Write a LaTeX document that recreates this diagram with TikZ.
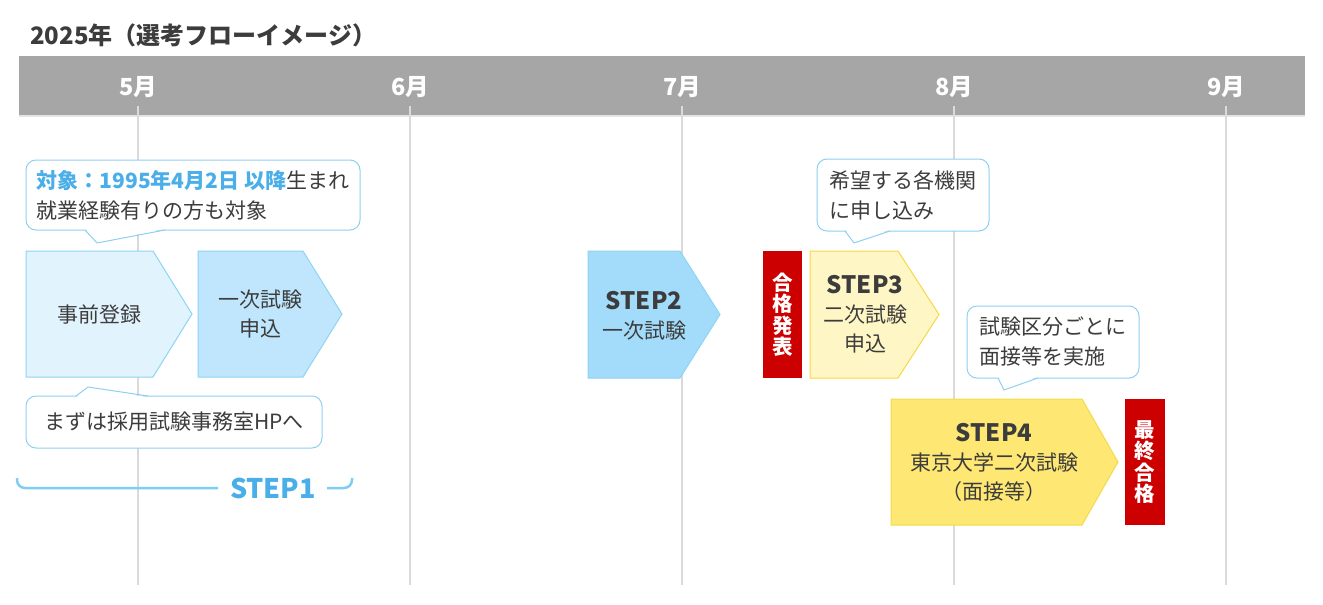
\documentclass[tikz,border=0pt]{standalone}
\usepackage{fontspec}
\setmainfont{Noto Sans CJK JP}
\usepackage{tikz}
\definecolor{bandgray}{HTML}{A6A6A6}
\definecolor{gridgray}{HTML}{DADADA}
\definecolor{txtdark}{HTML}{3C3C3C}
\definecolor{noteblue}{HTML}{4AAEE8}
\definecolor{bubbleline}{HTML}{8ED0F2}
\definecolor{blueline}{HTML}{8FD3F5}
\definecolor{bluelight}{HTML}{E1F3FD}
\definecolor{bluemid}{HTML}{BFE6FC}
\definecolor{bluedeep}{HTML}{A3DCFB}
\definecolor{yellowline}{HTML}{F5D945}
\definecolor{yellowlight}{HTML}{FFF6C6}
\definecolor{yellowdeep}{HTML}{FEE873}
\definecolor{passred}{HTML}{CC0000}
\definecolor{bracketblue}{HTML}{80CDF3}
\tikzstyle{title}=[anchor=west, inner sep=0, text=txtdark, font=\fontsize{24}{24}\selectfont\bfseries]
\tikzstyle{month}=[inner sep=0, text=white, font=\fontsize{23.5}{24}\selectfont\bfseries]
\tikzstyle{grid}=[gridgray, line width=2pt]
\tikzstyle{txt}=[inner sep=0, align=center, text=txtdark, font=\fontsize{21}{29}\selectfont]
\tikzstyle{bubble}=[draw=bubbleline, line width=1pt, fill=white, rounded corners=10pt, align=left, text=txtdark, font=\fontsize{21}{30}\selectfont]
\tikzstyle{tail}=[bubbleline, line width=1pt, line join=round]
\tikzstyle{arrowbox}=[draw=blueline, line width=1pt]
\tikzstyle{result}=[fill=passred, inner sep=0, align=center, text=white, minimum width=39pt, minimum height=127pt, font=\fontsize{20.5}{21.5}\selectfont\bfseries]

\begin{document}
\begin{tikzpicture}[x=1pt,y=-1pt]
  \useasboundingbox (0,0) rectangle (1323,605);
  \node[title] (title) at (30,35) {2025年（選考フローイメージ）};
  % month band
  \fill[bandgray] (19,56) rectangle (1305,115);
  \draw[gridgray!70, line width=2pt] (19,116) -- (1305,116);
  \foreach \m [count=\i from 0] in {5,6,7,8,9}{
    \draw[grid] (138+272*\i,106) -- (138+272*\i,585);
    \node[month] (m\m) at (138+272*\i,87) {\m{}月};
  }

  % step 1
  \draw[arrowbox, fill=bluelight] (26,251) -- (153,251) -- (192,314) -- (153,377) -- (26,377) -- cycle;
  \node[txt] (reg) at (99,314) {事前登録};
  \draw[arrowbox, fill=bluemid] (198,251) -- (303,251) -- (342,314) -- (303,377) -- (198,377) -- cycle;
  \node[txt] (apply1) at (260,314.5) {一次試験\\申込};

  \node[bubble, minimum width=334pt, minimum height=70pt] (note1) at (193,195)
    {{\bfseries\color{noteblue}対象：1995年4月2日 以降}生まれ\\就業経験有りの方も対象};
  \fill[white] (85.5,228.8) -- (97,242) -- (164.5,228.8) -- cycle;
  \draw[tail] (85,230) -- (97,243) -- (165,230);

  \node[bubble, minimum width=296pt, minimum height=52pt] (note2) at (174,422) {まずは採用試験事務室HPへ};
  \fill[white] (76.5,397.2) -- (88,388) -- (147.5,397.2) -- cycle;
  \draw[tail] (76,396) -- (88,387) -- (148,396);

  \draw[bracketblue, line width=2.5pt, rounded corners=8pt] (17,478) -- (17,488) -- (218,488);
  \draw[bracketblue, line width=2.5pt, rounded corners=8pt] (327,488) -- (352,488) -- (352,478);
  \node[inner sep=0, text=noteblue, font=\fontsize{27}{27}\selectfont\bfseries] (step1) at (273,488.5) {STEP1};

  % step 2
  \draw[arrowbox, fill=bluedeep] (588,251) -- (680,251) -- (720,314.5) -- (680,378) -- (588,378) -- cycle;
  \node[txt] (step2) at (644,316) {{\bfseries\fontsize{24}{29}\selectfont STEP2}\\一次試験};
  \node[result] (pass1) at (782.5,314.5) {合\\格\\発\\表};

  % step 3
  \draw[draw=yellowline, line width=1pt, fill=yellowlight] (810,251) -- (898,251) -- (939,314.5) -- (898,378) -- (810,378) -- cycle;
  \node[txt] (step3) at (865,314.5) {{\bfseries\fontsize{24}{29}\selectfont STEP3}\\二次試験\\申込};
  \node[bubble, minimum width=172pt, minimum height=72pt] (note3) at (903,195) {希望する各機関\\に申し込み};
  \fill[white] (845.5,229.8) -- (854,242) -- (889.5,229.8) -- cycle;
  \draw[tail] (845,231) -- (854,243) -- (890,231);

  % step 4
  \draw[draw=yellowline, line width=1pt, fill=yellowdeep] (891,399) -- (1082,399) -- (1118,462) -- (1082,525) -- (891,525) -- cycle;
  \node[txt] (step4) at (994,462) {{\bfseries\fontsize{24}{29}\selectfont STEP4}\\東京大学二次試験\\（面接等）};
  \node[bubble, minimum width=172pt, minimum height=72pt] (note4) at (1053,342) {試験区分ごとに\\面接等を実施};
  \fill[white] (998.5,376.8) -- (1004,389) -- (1037.5,376.8) -- cycle;
  \draw[tail] (998,378) -- (1004,390) -- (1038,378);
  \node[result, minimum width=40pt, minimum height=126pt] (pass2) at (1145,462) {最\\終\\合\\格};
\end{tikzpicture}
\end{document}
